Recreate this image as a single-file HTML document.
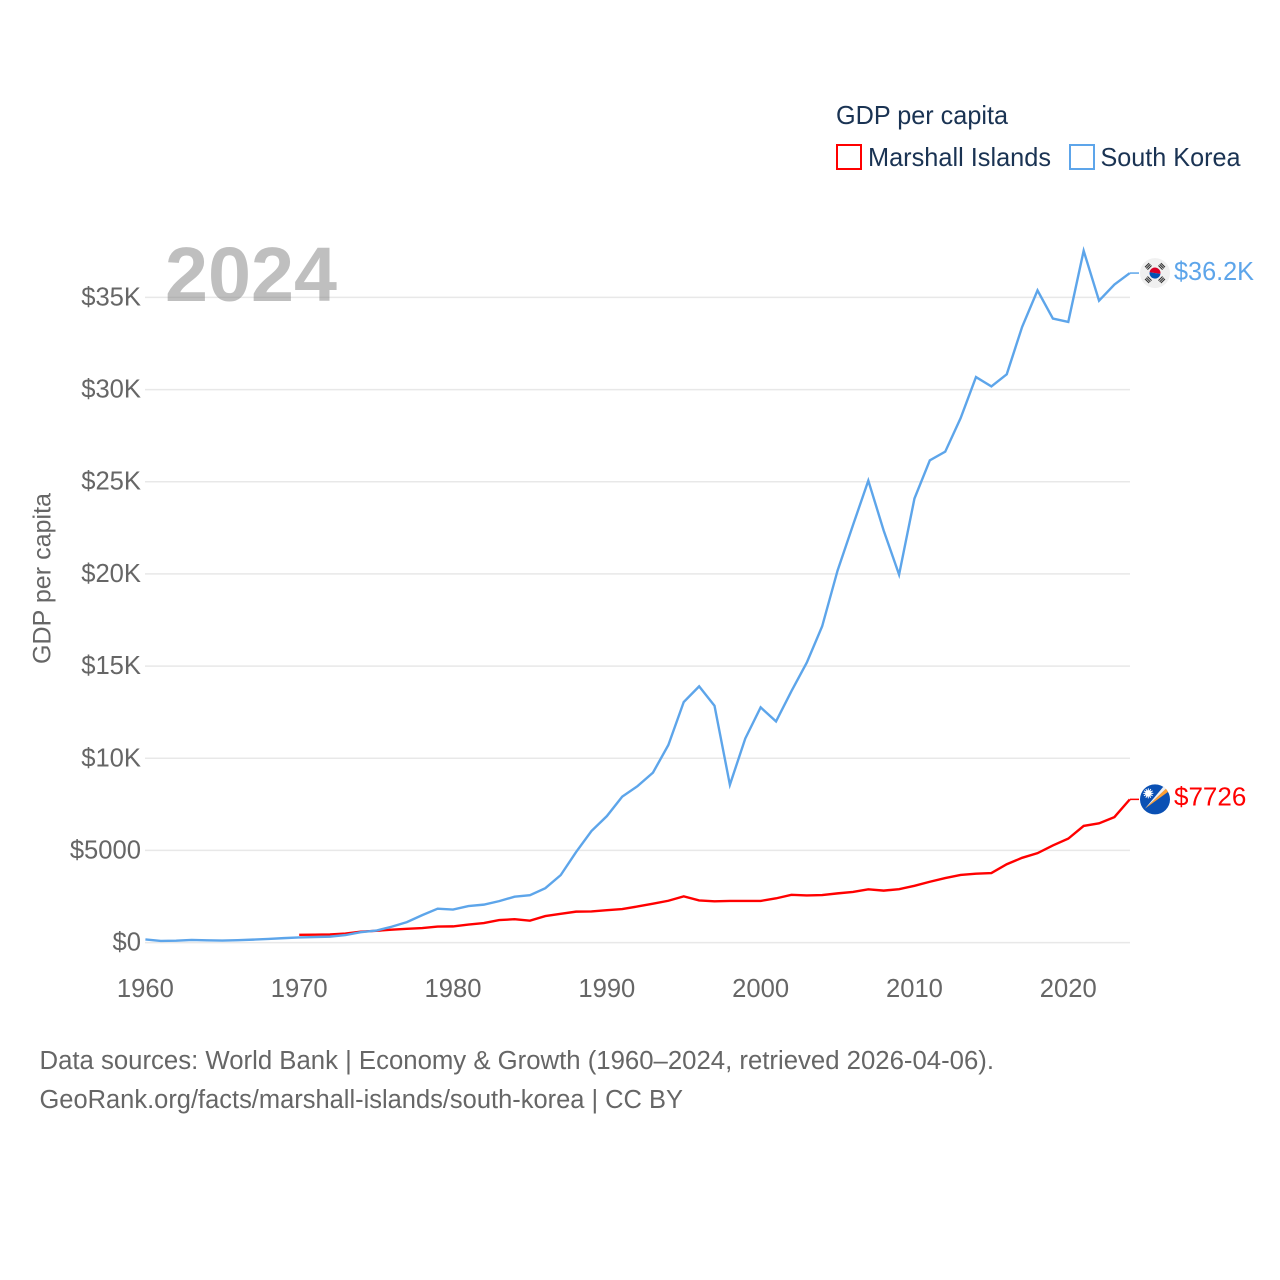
<!DOCTYPE html>
<html lang="en">
<head>
<meta charset="utf-8">
<title>GDP per capita: Marshall Islands and South Korea</title>
<style>
html,body{margin:0;padding:0;background:#fff;width:1280px;height:1280px;overflow:hidden}
svg{display:block}
text{font-family:"Liberation Sans",sans-serif}
</style>
</head>
<body>
<svg id="chart" width="1280" height="1280" viewBox="0 0 1280 1280" xmlns="http://www.w3.org/2000/svg">
  <g id="grid"></g>
  <g id="yticks"></g>
  <g id="xticks"></g>
  <text x="165" y="301" font-size="77" font-weight="700" fill="#808080" fill-opacity="0.5" textLength="172" lengthAdjust="spacingAndGlyphs">2024</text>
  <text transform="translate(50.5,664) rotate(-90)" font-size="25" fill="#666" textLength="171" lengthAdjust="spacingAndGlyphs">GDP per capita</text>
  <g id="series"></g>
  <g id="flags"></g>
  <g>
    <text x="836" y="124" font-size="26" fill="#1a3353" textLength="172" lengthAdjust="spacingAndGlyphs">GDP per capita</text>
    <rect x="837" y="145" width="24" height="24" fill="#fff" stroke="#ff0000" stroke-width="2"/>
    <text x="868" y="166" font-size="26" fill="#1a3353" textLength="183" lengthAdjust="spacingAndGlyphs">Marshall Islands</text>
    <rect x="1070" y="145" width="24" height="24" fill="#fff" stroke="#5da5ea" stroke-width="2"/>
    <text x="1100.5" y="166" font-size="26" fill="#1a3353" textLength="140" lengthAdjust="spacingAndGlyphs">South Korea</text>
  </g>
  <g>
    <text x="39.5" y="1069" font-size="25.5" fill="#666" textLength="954.5" lengthAdjust="spacingAndGlyphs">Data sources: World Bank | Economy &amp; Growth (1960–2024, retrieved 2026-04-06).</text>
    <text x="39.5" y="1108" font-size="25.5" fill="#666" textLength="643.5" lengthAdjust="spacingAndGlyphs">GeoRank.org/facts/marshall-islands/south-korea | CC BY</text>
  </g>
</svg>
<script>
const koreaStartYear = 1960;
const koreaValues = [170,93,106,146,124,108,133,161,198,243,279,301,324,406,563,650,860,1110,1490,1840,1790,1980,2060,2250,2490,2570,2950,3660,4910,6050,6860,7920,8490,9220,10720,13050,13900,12850,8560,11070,12760,12000,13640,15190,17160,20180,22640,25060,22350,19960,24090,26160,26630,28450,30680,30170,30830,33400,35380,33850,33670,37530,34820,35700,36320];
const marshallStartYear = 1970;
const marshallValues = [420,430,440,490,590,640,700,750,790,870,880,980,1060,1220,1270,1190,1440,1560,1680,1690,1760,1820,1960,2110,2270,2510,2290,2240,2260,2260,2260,2400,2590,2560,2580,2670,2750,2890,2820,2900,3080,3300,3500,3670,3740,3770,4250,4600,4850,5270,5640,6330,6470,6810,7770];
const yTickValues = [0,5000,10000,15000,20000,25000,30000,35000];
const yTickLabels = ["$0","$5000","$10K","$15K","$20K","$25K","$30K","$35K"];
const xTickValues = [1960,1970,1980,1990,2000,2010,2020];
const koreaEndLabel = "$36.2K";
const marshallEndLabel = "$7726";

const NS = "http://www.w3.org/2000/svg";
const xScale = function (year) { return 145.4 + (year - 1960) * (1129.8 - 145.4) / 64; };
const yScale = function (v) { return 942.6 - v * (942.6 - 297.4) / 35000; };

function make(tag, attrs, parent, text) {
  const el = document.createElementNS(NS, tag);
  for (const k in attrs) el.setAttribute(k, attrs[k]);
  if (text !== undefined) el.textContent = text;
  parent.appendChild(el);
  return el;
}

const gridG = document.getElementById("grid");
const yG = document.getElementById("yticks");
const xG = document.getElementById("xticks");
const seriesG = document.getElementById("series");
const flagsG = document.getElementById("flags");

yTickValues.forEach(function (v, i) {
  const line = make("line", {x1: 145, x2: 1130, y1: yScale(v), y2: yScale(v), stroke: "#e8e8e8", "stroke-width": 1.5}, gridG);
  
  
  const t = make("text", {x: 141, y: yScale(v) + 8, "text-anchor": "end", "font-size": 25.6, fill: "#666"}, yG, yTickLabels[i]);
  
  
});

xTickValues.forEach(function (year) {
  const t = make("text", {x: xScale(year), y: 997, "text-anchor": "middle", "font-size": 25.6, fill: "#666"}, xG, String(year));
  
  
});

function seriesPoints(startYear, values) {
  return values.map(function (v, i) {
    return xScale(startYear + i).toFixed(2) + "," + yScale(v).toFixed(2);
  }).join(" ");
}

const marshallLine = make("polyline", {points: seriesPoints(marshallStartYear, marshallValues), fill: "none", stroke: "#ff0000", "stroke-width": 2.4, "stroke-linejoin": "miter"}, seriesG);


const koreaLine = make("polyline", {points: seriesPoints(koreaStartYear, koreaValues), fill: "none", stroke: "#5da5ea", "stroke-width": 2.4, "stroke-linejoin": "miter"}, seriesG);



/* connectors, flags and end labels follow each series' last value */
const koreaY = yScale(koreaValues[koreaValues.length - 1]);
const marshallY = yScale(marshallValues[marshallValues.length - 1]);

const koreaConnector = make("line", {x1: 1130, x2: 1139, y1: koreaY, y2: koreaY, stroke: "#5da5ea", "stroke-width": 1.5}, flagsG);


const marshallConnector = make("line", {x1: 1130, x2: 1139, y1: marshallY, y2: marshallY, stroke: "#ff0000", "stroke-width": 1.5}, flagsG);



const koreaFlag = make("g", {transform: "translate(1155," + koreaY + ")"}, flagsG);


make("circle", {r: 15, fill: "#f0f0f0"}, koreaFlag);
make("path", {d: "M-5.5 0A5.5 5.5 0 0 1 5.5 0Z", fill: "#d80027", transform: "rotate(8)"}, koreaFlag);
make("path", {d: "M-5.5 0A5.5 5.5 0 0 0 5.5 0Z", fill: "#0052b4", transform: "rotate(8)"}, koreaFlag);
[45, 135, 225, 315].forEach(function (angle) {
  const bars = make("g", {transform: "rotate(" + angle + ") translate(0,-9.5)"}, koreaFlag);
  [-1.7, 0, 1.7].forEach(function (offset) {
    make("rect", {x: -2.9, y: offset - 0.55, width: 5.8, height: 1.1, fill: "#333"}, bars);
  });
});

const marshallFlag = make("g", {transform: "translate(1155," + marshallY + ")"}, flagsG);


make("circle", {r: 15, fill: "#0a50b4"}, marshallFlag);
make("path", {d: "M-10 9.3L8.3 -12.6L11 -10.6Z", fill: "#f0f0f0"}, marshallFlag);
make("path", {d: "M-10 9.3L11 -10.6L13 -7.5Z", fill: "#ffa033"}, marshallFlag);
make("circle", {cx: -6.7, cy: -6, r: 3.2, fill: "#fff"}, marshallFlag);
[0, 30, 60, 90, 120, 150, 180, 210, 240, 270, 300, 330].forEach(function (angle) {
  make("rect", {x: -0.5, y: -5, width: 1, height: 5, fill: "#fff", transform: "translate(-6.7,-6) rotate(" + angle + ")"}, marshallFlag);
});

const koreaText = make("text", {x: 1174, y: koreaY + 7, "font-size": 26, fill: "#5da5ea", textLength: 80, lengthAdjust: "spacingAndGlyphs"}, flagsG, koreaEndLabel);


const marshallText = make("text", {x: 1174, y: marshallY + 6, "font-size": 26, fill: "#ff0000"}, flagsG, marshallEndLabel);


</script>
</body>
</html>
